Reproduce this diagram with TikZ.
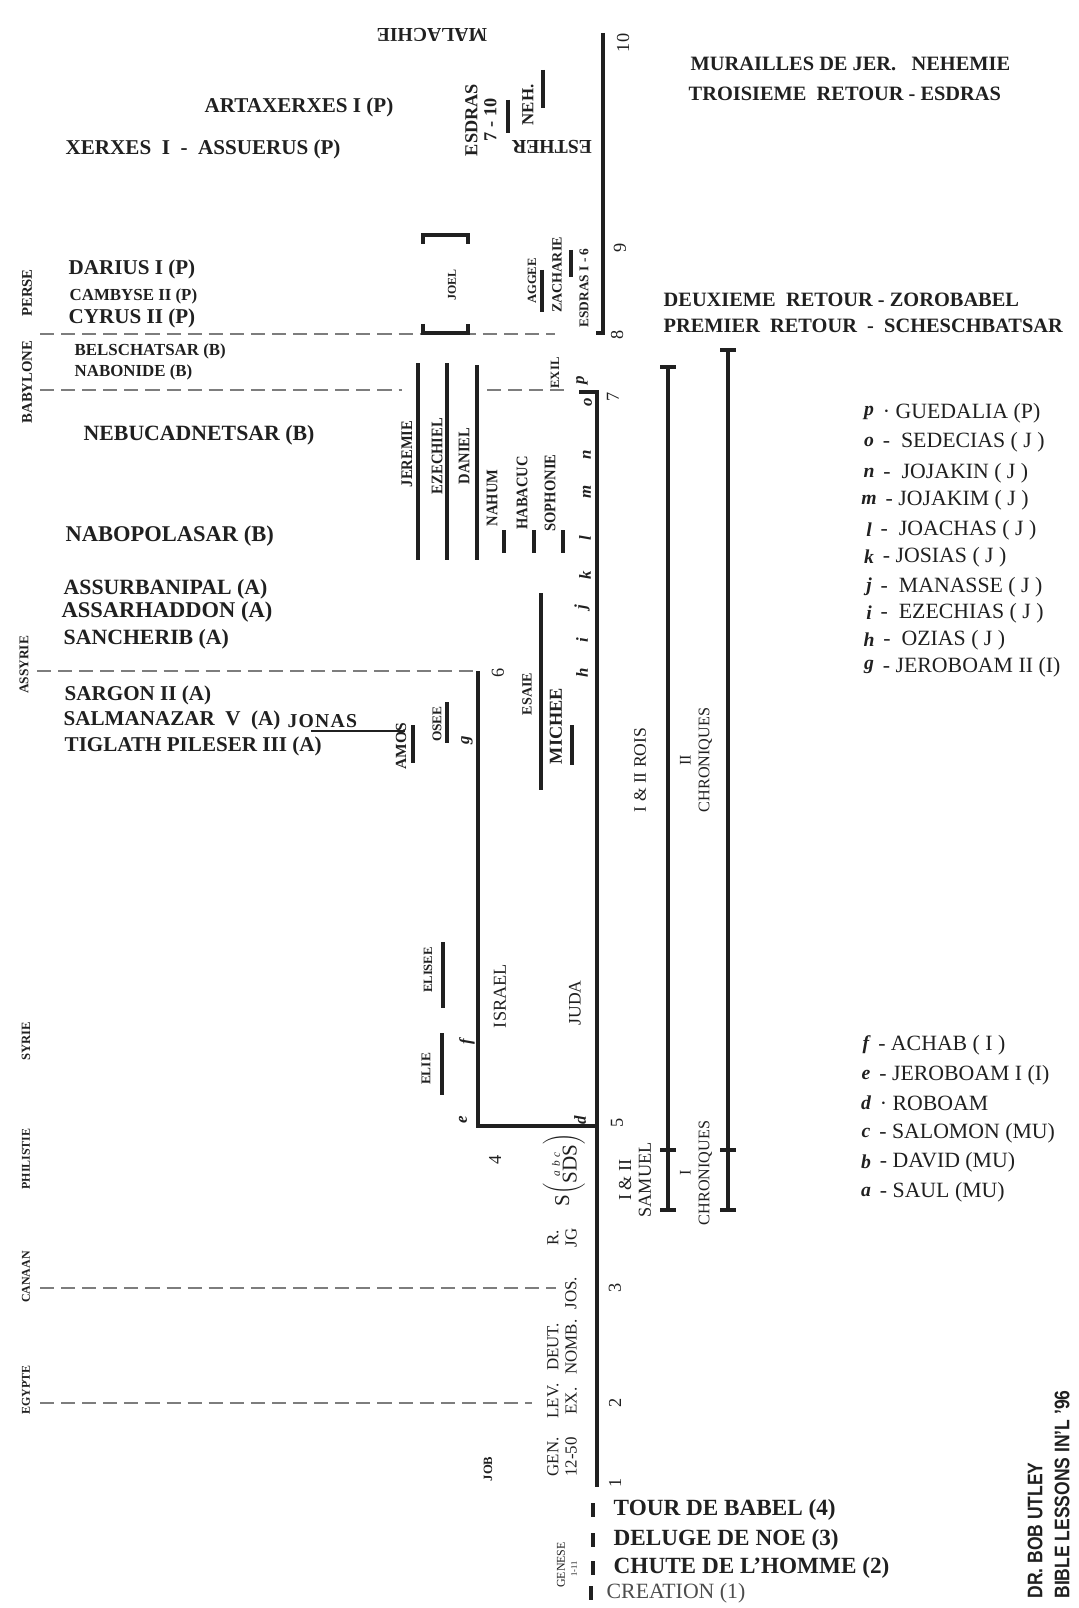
\documentclass[tikz,border=0pt]{standalone}
\usepackage{fontspec}
\setmainfont{Liberation Serif}
\setsansfont{Liberation Sans}
\usepackage{tikz}
\usetikzlibrary{positioning}
\definecolor{Ink}{RGB}{32,32,32}
\definecolor{EraGray}{RGB}{125,125,125}
\newcommand{\fsz}[1]{\fontsize{#1}{#1}\selectfont}

\begin{document}
\begin{tikzpicture}[x=0.025cm,y=-0.025cm,
    every node/.style={text=Ink,inner sep=1pt},
    king/.style={anchor=west,font=\fsz{15}\bfseries},
    kingsm/.style={anchor=west,font=\fsz{12}\bfseries},
    region/.style={rotate=90,font=\fsz{10.5}\bfseries},
    book/.style={rotate=90,font=\fsz{10.5}\bfseries},
    prophet/.style={rotate=90,xscale=0.9,font=\fsz{11.5}\bfseries},
    bookrm/.style={rotate=90,align=center,font=\fontsize{12.5}{14}\selectfont},
    num/.style={rotate=90,font=\fsz{13}},
    kmark/.style={rotate=90,font=\fsz{12}\bfseries\itshape},
    retour/.style={anchor=west,font=\fsz{14.5}\bfseries},
    legsym/.style={font=\fsz{14}\bfseries\itshape},
    legtxt/.style={font=\fsz{15.5}},
    gen/.style={anchor=west,font=\fsz{16.5}\bfseries},
    mainline/.style={line width=3pt,Ink},
    pbar/.style={line width=2.8pt,Ink},
    booksp/.style={line width=2.2pt,Ink},
    era/.style={EraGray,line width=2pt,dash pattern=on 10pt off 5pt}
  ]
  \fill[white] (0,0) rectangle (1078,1608);
  \useasboundingbox (0,0) rectangle (1078,1608);

  % periodes (lignes tiretees)
  \coordinate (pe1) at (40,334);   \coordinate (pe2) at (555,334);
  \coordinate (ba1) at (40,390);   \coordinate (ba2) at (402,390);
  \coordinate (ba3) at (487,390);  \coordinate (ba4) at (567,390);
  \coordinate (as1) at (37,671);   \coordinate (isr) at (478,671);
  \coordinate (ca1) at (40,1288);  \coordinate (ca2) at (556,1288);
  \coordinate (eg1) at (40,1403);  \coordinate (eg2) at (532,1403);
  \draw[era] (pe1) -- (pe2);
  \draw[era] (ba1) -- (ba2) (ba3) -- (ba4);
  \draw[era] (as1) -- (isr);
  \draw[era] (ca1) -- (ca2);
  \draw[era] (eg1) -- (eg2);

  % ligne du temps
  \coordinate (t10) at (603,33);  \coordinate (t8) at (603,333);
  \coordinate (t8a) at (596,333);
  \coordinate (t7a) at (579,392); \coordinate (t7) at (597,392);
  \coordinate (t1) at (597,1487);
  \coordinate (isrb) at (478,1126); \coordinate (jud) at (597,1126);
  \draw[mainline] (t10) -- (t8) -- (t8a);
  \draw[mainline] (t7a) -- (t7) -- (t1);
  \draw[booksp] (isr) -- (isrb) -- (jud);

  \node[num] (n10) at (623,43) {10};
  \node[num] (n9) at (620,248) {9};
  \node[num] (n8) at (617,335) {8};
  \node[num] (n7) at (613,397) {7};
  \node[num] (n6) at (498,673) {6};
  \node[num] (n5) at (617,1123) {5};
  \node[num] (n4) at (495,1160) {4};
  \node[num] (n3) at (615,1288) {3};
  \node[num] (n2) at (615,1403) {2};
  \node[num] (n1) at (615,1483) {1};

  % regions
  \node[region] (perse) at (27,293) {PERSE};
  \node[region] (babyl) at (27,382) {BABYLONE};
  \node[region,font=\fsz{9.5}\bfseries] (assyr) at (24,665) {ASSYRIE};
  \node[region,font=\fsz{9}\bfseries] (syrie) at (26,1041) {SYRIE};
  \node[region,font=\fsz{8.5}\bfseries] (phili) at (26,1159) {PHILISTIE};
  \node[region,font=\fsz{8.5}\bfseries] (canaan) at (26,1277) {CANAAN};
  \node[region,font=\fsz{8.5}\bfseries] (egypte) at (26,1390) {EGYPTE};

  % rois
  \node[king] (artax) at (203,107) {ARTAXERXES I (P)};
  \node[king] (xerx) at (64,149) {XERXES\ \ I\ \ -\ \ ASSUERUS (P)};
  \node[king] (darius) at (67,269) {DARIUS I (P)};
  \node[kingsm] (camb) at (68,296) {CAMBYSE II (P)};
  \node[king] (cyrus) at (67,318) {CYRUS II (P)};
  \node[kingsm] (belsch) at (73,351) {BELSCHATSAR (B)};
  \node[kingsm] (nabon) at (73,372) {NABONIDE (B)};
  \node[king,font=\fsz{15.5}\bfseries] (nebu) at (82,435) {NEBUCADNETSAR (B)};
  \node[king,font=\fsz{16}\bfseries] (nabop) at (64,536) {NABOPOLASAR (B)};
  \node[king,font=\fsz{15.5}\bfseries] (assurb) at (62,589) {ASSURBANIPAL (A)};
  \node[king,font=\fsz{16}\bfseries] (assarh) at (60,612) {ASSARHADDON (A)};
  \node[king,font=\fsz{15.5}\bfseries] (sanch) at (62,639) {SANCHERIB (A)};
  \node[king] (sargon) at (63,695) {SARGON II (A)};
  \node[king] (salman) at (62,720) {SALMANAZAR\ \ V\ \ (A)};
  \node[king] (tigl) at (63,746) {TIGLATH PILESER III (A)};
  \node[anchor=west,font=\fsz{14}\bfseries\addfontfeature{LetterSpace=6}] (jonas) at (286,721) {JONAS};
  \coordinate (jo1) at (311,731); \coordinate (jo2) at (405,731);
  \draw[line width=1.8pt,Ink] (jo1) -- (jo2);

  % prophetes et livres
  \node[rotate=180,font=\fsz{14}\bfseries] (malach) at (432,35) {MALACHIE};
  \node[rotate=90,align=center,font=\fontsize{13}{13.5}\selectfont\bfseries] (esdr) at (481,120) {ESDRAS\\7 - 10};
  \node[book,font=\fsz{12}\bfseries] (neh) at (528,105) {NEH.};
  \node[rotate=180,font=\fsz{14}\bfseries] (esther) at (552,147) {ESTHER};
  \draw[pbar] (508,100) -- (508,133);
  \draw[pbar] (543,70) -- (543,108);

  \node[book,font=\fsz{8.5}\bfseries] (joel) at (452,285) {JOEL};
  \draw[booksp] (423,244) -- (423,235) -- (468,235) -- (468,244);
  \draw[booksp] (423,324) -- (423,333) -- (468,333) -- (468,324);
  \node[book,font=\fsz{9}\bfseries] (aggee) at (532,281) {AGGEE};
  \node[book,font=\fsz{10}\bfseries] (zach) at (557,275) {ZACHARIE};
  \node[book,font=\fsz{9.5}\bfseries] (esdr16) at (584,288) {ESDRAS I - 6};
  \draw[pbar] (542,270) -- (542,312);
  \draw[pbar] (571,250) -- (571,277);
  \node[book,font=\fsz{9}\bfseries] (exil) at (555,373) {EXIL};

  \node[prophet] (jerem) at (407,454) {JEREMIE};
  \node[prophet] (ezech) at (437,456) {EZECHIEL};
  \node[prophet] (daniel) at (464,456) {DANIEL};
  \draw[pbar] (418,363) -- (418,560);
  \draw[pbar] (447,363) -- (447,560);
  \draw[pbar] (477,365) -- (477,560);
  \node[prophet] (nahum) at (492,498) {NAHUM};
  \node[prophet] (habac) at (522,493) {HABACUC};
  \node[prophet] (sophon) at (550,493) {SOPHONIE};
  \draw[pbar] (504,530) -- (504,553);
  \draw[pbar] (534,530) -- (534,553);
  \draw[pbar] (563,530) -- (563,553);

  \node[book,font=\fsz{10}\bfseries] (esaie) at (527,694) {ESAIE};
  \node[book,font=\fsz{13}\bfseries] (michee) at (556,726) {MICHEE};
  \draw[pbar] (541,593) -- (541,790);
  \draw[pbar] (572,725) -- (572,765);
  \node[book,font=\fsz{11}\bfseries] (amos) at (401,746) {AMOS};
  \node[book,font=\fsz{9.5}\bfseries] (osee) at (437,724) {OSEE};
  \draw[pbar] (413,725) -- (413,763);
  \draw[pbar] (447,702) -- (447,743);
  \node[book,font=\fsz{9}\bfseries] (elisee) at (428,970) {ELISEE};
  \node[book,font=\fsz{9.5}\bfseries] (elie) at (426,1069) {ELIE};
  \draw[pbar] (443,942) -- (443,1008);
  \draw[pbar] (442,1033) -- (442,1095);

  \node[rotate=90,font=\fsz{13}] (israel) at (500,996) {ISRAEL};
  \node[rotate=90,font=\fsz{12.5}] (juda) at (575,1003) {JUDA};
  \node[rotate=90,font=\fsz{15}] (sds) at (564,1170)
    {S$\left(\begin{tabular}{@{}c@{}}{\fsz{8}\itshape a\,\,b\,\,c}\\[-3pt]SDS\end{tabular}\right)$};

  % lettres des rois sur la ligne
  \node[kmark] (mp) at (582,380) {p};
  \node[kmark] (mo) at (588,402) {o};
  \node[kmark] (mn) at (587,455) {n};
  \node[kmark] (mm) at (587,492) {m};
  \node[kmark] (ml) at (585,538) {l};
  \node[kmark] (mk) at (585,575) {k};
  \node[kmark] (mj) at (582,607) {j};
  \node[kmark] (mi) at (582,640) {i};
  \node[kmark] (mh) at (582,673) {h};
  \node[kmark] (mg) at (467,740) {g};
  \node[kmark] (mf) at (467,1042) {f};
  \node[kmark] (me) at (463,1120) {e};
  \node[kmark] (md) at (580,1120) {d};

  % Samuel, Rois, Chroniques
  \node[bookrm,font=\fontsize{13}{14}\selectfont] (samuel) at (635,1180) {I \& II\\SAMUEL};
  \node[bookrm] (rois) at (640,770) {I \& II ROIS};
  \node[bookrm,font=\fontsize{11.5}{13.5}\selectfont] (chron2) at (696,760) {II\\CHRONIQUES};
  \node[bookrm,font=\fontsize{11.5}{13.5}\selectfont] (chron1) at (696,1173) {I\\CHRONIQUES};
  \draw[booksp] (668,367) -- (668,1210);
  \draw[booksp] (660,367) -- (676,367);
  \draw[booksp] (660,1150) -- (676,1150);
  \draw[booksp] (660,1210) -- (676,1210);
  \draw[booksp] (728,350) -- (728,1210);
  \draw[booksp] (720,350) -- (736,350);
  \draw[booksp] (720,1150) -- (736,1150);
  \draw[booksp] (720,1210) -- (736,1210);

  % Pentateuque
  \node[bookrm,font=\fontsize{12}{13}\selectfont] (rjg) at (562,1238) {R.\\JG};
  \node[rotate=90,font=\fsz{12}] (jos) at (571,1293) {JOS.};
  \node[bookrm,font=\fontsize{12}{13}\selectfont] (deut) at (562,1347) {DEUT.\\NOMB.};
  \node[bookrm,font=\fontsize{12}{13}\selectfont] (lev) at (562,1401) {LEV.\\EX.};
  \node[bookrm,font=\fontsize{12}{13}\selectfont] (gen) at (562,1457) {GEN.\\12-50};
  \node[book,font=\fsz{9}\bfseries] (job) at (488,1469) {JOB};
  \node[rotate=90,font=\fsz{8.5}] (genese) at (561,1565) {GENESE};
  \node[rotate=90,font=\fsz{6}] (g111) at (574,1569) {1-11};

  % Genese 1-11
  \node[gen] (tour) at (612,1510) {TOUR DE BABEL (4)};
  \node[gen] (deluge) at (612,1540) {DELUGE DE NOE (3)};
  \node[gen] (chute) at (612,1568) {CHUTE DE L’HOMME (2)};
  \node[gen,font=\fsz{15.5},text=Ink!80] (creat) at (605,1593) {CREATION (1)};
  \draw[pbar] (593,1503) -- (593,1517);
  \draw[pbar] (593,1533) -- (593,1547);
  \draw[pbar] (593,1561) -- (593,1575);
  \draw[pbar] (591,1586) -- (591,1600);

  % retours
  \node[retour] (mur) at (689,64) {MURAILLES DE JER.\ \ \ NEHEMIE};
  \node[retour] (ret3) at (687,94) {TROISIEME\ \ RETOUR - ESDRAS};
  \node[retour] (ret2) at (662,300) {DEUXIEME\ \ RETOUR - ZOROBABEL};
  \node[retour] (ret1) at (662,326) {PREMIER\ \ RETOUR\ \ -\ \ SCHESCHBATSAR};

  % legende Juda
  \node[legsym] (lp) at (869,413) {p};
  \node[legtxt,right=4pt of lp] (tp) {· GUEDALIA (P)};
  \node[legsym] (lo) at (869,442) {o};
  \node[legtxt,right=4pt of lo] (to) {-\ \ SEDECIAS ( J )};
  \node[legsym] (ln) at (869,473) {n};
  \node[legtxt,right=4pt of ln] (tn) {-\ \ JOJAKIN ( J )};
  \node[legsym] (lm) at (869,500) {m};
  \node[legtxt,right=4pt of lm] (tm) {- JOJAKIM ( J )};
  \node[legsym] (ll) at (869,530) {l};
  \node[legtxt,right=4pt of ll] (tl) {-\ \ JOACHAS ( J )};
  \node[legsym] (lk) at (869,557) {k};
  \node[legtxt,right=4pt of lk] (tk) {- JOSIAS ( J )};
  \node[legsym] (lj) at (869,587) {j};
  \node[legtxt,right=4pt of lj] (tj) {-\ \ MANASSE ( J )};
  \node[legsym] (li) at (869,613) {i};
  \node[legtxt,right=4pt of li] (ti) {-\ \ EZECHIAS ( J )};
  \node[legsym] (lh) at (869,640) {h};
  \node[legtxt,right=4pt of lh] (th) {-\ \ OZIAS ( J )};
  \node[legsym] (lg) at (869,667) {g};
  \node[legtxt,right=4pt of lg] (tg) {- JEROBOAM II (I)};

  % legende monarchie unie et Israel
  \node[legsym] (lf) at (866,1045) {f};
  \node[legtxt,right=4pt of lf] (tf) {- ACHAB ( I )};
  \node[legsym] (le) at (866,1075) {e};
  \node[legtxt,right=4pt of le] (te) {- JEROBOAM I (I)};
  \node[legsym] (ld) at (866,1103) {d};
  \node[legtxt,right=4pt of ld] (td) {· ROBOAM};
  \node[legsym] (lc) at (866,1133) {c};
  \node[legtxt,right=4pt of lc] (tc) {- SALOMON (MU)};
  \node[legsym] (lb) at (866,1162) {b};
  \node[legtxt,right=4pt of lb] (tb) {- DAVID (MU)};
  \node[legsym] (la) at (866,1192) {a};
  \node[legtxt,right=4pt of la] (ta) {- SAUL (MU)};

  % auteur
  \node[rotate=90,anchor=west,xscale=0.83,font=\sffamily\bfseries\fsz{15}] (utley) at (1035,1600) {DR. BOB UTLEY};
  \node[rotate=90,anchor=west,xscale=0.83,font=\sffamily\bfseries\fsz{15}] (bll) at (1062,1600) {BIBLE LESSONS IN’L ’96};
\end{tikzpicture}
\end{document}
